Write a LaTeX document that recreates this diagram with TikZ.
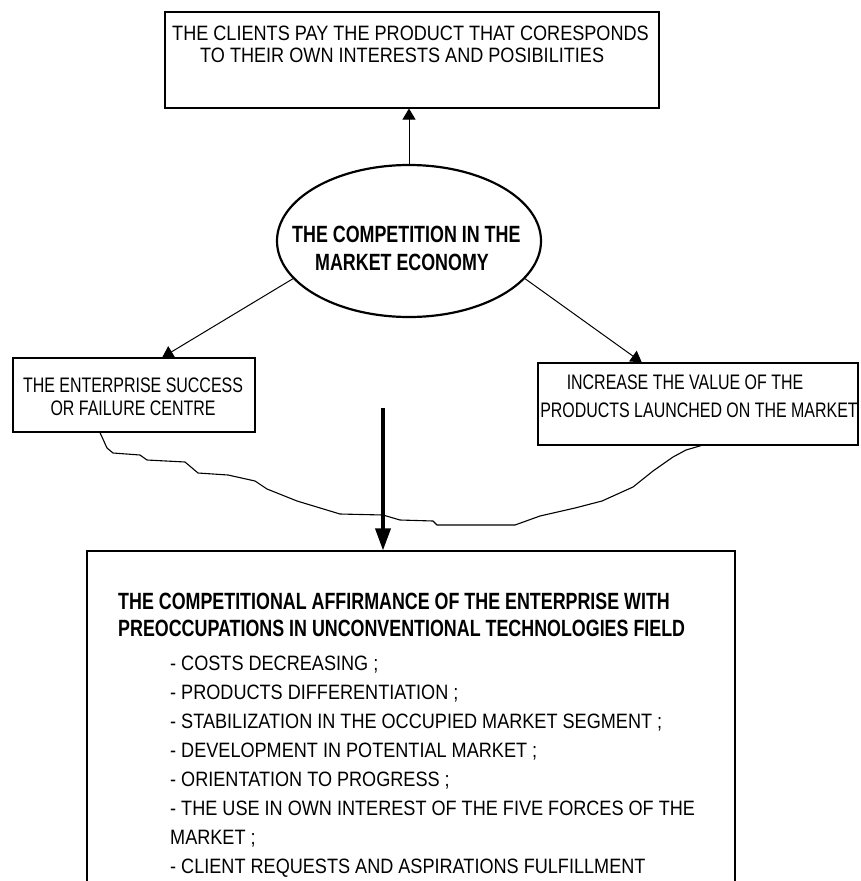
\documentclass[tikz,border=0pt]{standalone}
\usepackage{fontspec}
\setmainfont{Liberation Sans}
\newfontfamily\plainfont[FakeStretch=0.87]{Liberation Sans}
\newfontfamily\narrowfont[FakeStretch=0.76]{Liberation Sans}
\usetikzlibrary{arrows.meta,calc,shapes.geometric}

\begin{document}
\begin{tikzpicture}[x=1pt,y=-1pt,
  frame/.style={draw=black, line width=1.1pt, inner sep=0pt},
  oval/.style={draw=black, ellipse, line width=2.2pt, inner sep=0pt},
  txt/.style={inner sep=0pt, anchor=base west},
  ctxt/.style={inner sep=0pt, anchor=base},
  plaintxt/.style={font=\plainfont\fontsize{20.8}{24}\selectfont},
  boldtxt/.style={font=\narrowfont\bfseries\fontsize{23.5}{28}\selectfont},
  boxtxt/.style={font=\narrowfont\fontsize{21}{26}\selectfont},
  thinarrow/.style={line width=1pt, -{Triangle[width=13pt,length=11pt]}},
  thickarrow/.style={line width=3.5pt, -{Triangle[width=15pt,length=22pt]}},
  wave/.style={line width=1.1pt, line join=round}
]
\useasboundingbox (0,0) rectangle (861,881);
\clip (0,0) rectangle (861,881);

% boxes and the central oval
\node[frame, minimum width=494pt, minimum height=96pt] (tbox) at (412,60) {};
\node[oval, minimum width=264pt, minimum height=152pt] (ell) at (409,241) {};
\node[frame, minimum width=242pt, minimum height=74pt] (lbox) at (134,395) {};
\node[frame, minimum width=320pt, minimum height=82pt] (rbox) at (698,404) {};
\node[frame, minimum width=648pt, minimum height=360pt] (bbox) at (411,731) {};

% top box text
\node[txt, plaintxt] (t1) at (172,40) {THE CLIENTS PAY THE PRODUCT THAT CORESPONDS};
\node[txt, plaintxt] (t2) at (200,62) {TO THEIR OWN INTERESTS AND POSIBILITIES};

% oval text
\node[txt, boldtxt] (e1) at (292,242.5) {THE COMPETITION IN THE};
\node[txt, boldtxt] (e2) at (315,270.5) {MARKET ECONOMY};

% side box texts
\node[ctxt, boxtxt] (l1) at (133,392.5) {THE ENTERPRISE SUCCESS};
\node[ctxt, boxtxt] (l2) at (133,415.5) {OR FAILURE CENTRE};
\node[ctxt, boxtxt] (r1) at (685,389.5) {INCREASE THE VALUE OF THE};
\node[ctxt, boxtxt] (r2) at (699,417.5) {PRODUCTS LAUNCHED ON THE MARKET};

% bottom box heading and list
\node[txt, boldtxt] (h1) at (118,609) {THE COMPETITIONAL AFFIRMANCE OF THE ENTERPRISE WITH};
\node[txt, boldtxt] (h2) at (118,636) {PREOCCUPATIONS IN UNCONVENTIONAL TECHNOLOGIES FIELD};
\node[txt, plaintxt] (i1) at (170,670) {- COSTS DECREASING ;};
\node[txt, plaintxt] (i2) at (170,699) {- PRODUCTS DIFFERENTIATION ;};
\node[txt, plaintxt] (i3) at (170,728) {- STABILIZATION IN THE OCCUPIED MARKET SEGMENT ;};
\node[txt, plaintxt] (i4) at (170,757) {- DEVELOPMENT IN POTENTIAL MARKET ;};
\node[txt, plaintxt] (i5) at (170,786) {- ORIENTATION TO PROGRESS ;};
\node[txt, plaintxt] (i6) at (170,815) {- THE USE IN OWN INTEREST OF THE FIVE FORCES OF THE};
\node[txt, plaintxt] (i7) at (170,844) {MARKET ;};
\node[txt, plaintxt] (i8) at (170,873) {- CLIENT REQUESTS AND ASPIRATIONS FULFILLMENT};

% connectors
\draw[thinarrow] (ell.north) -- (ell.north |- tbox.south);
\draw[thinarrow] (ell.198) -- ($(lbox.north west)!0.616!(lbox.north east)$);
\draw[thinarrow] (ell.-18) -- ($(rbox.north west)!0.325!(rbox.north east)$);
\coordinate (tstart) at (383,408);
\draw[thickarrow] (tstart) -- (tstart |- bbox.north);

% freehand bracket joining the two side boxes
\draw[wave] ($(lbox.south west)!0.36!(lbox.south east)$)
  -- (107,448) -- (113,453) -- (140,455) -- (147,460) -- (185,462)
  -- (198,473) -- (228,475) -- (255,481) -- (267,489) -- (297,501)
  -- (340,514) -- (383,515) -- (400,520) -- (433,521) -- (437,525)
  -- (515,525) -- (540,516) -- (575,508) -- (602,501) -- (633,487)
  -- (653,471) -- (673,457) -- (686,450)
  -- ($(rbox.south west)!0.51!(rbox.south east)$);
\end{tikzpicture}
\end{document}
